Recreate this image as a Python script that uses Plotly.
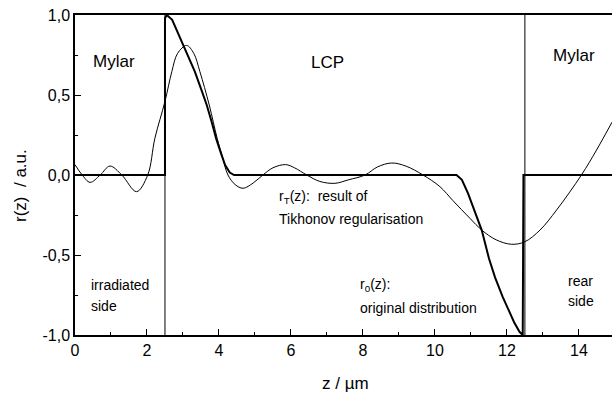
import plotly.graph_objects as go

# ---- data ----
z_r0 = [0.0, 2.5, 2.5, 2.55, 2.7, 2.92, 3.1, 3.33, 3.5, 3.66, 3.8, 3.92, 4.05, 4.17, 4.3, 4.42,
        10.6, 10.75, 10.92, 11.1, 11.3, 11.5, 11.67, 11.88, 12.05, 12.2, 12.35, 12.44, 12.46, 14.92]
r0 = [0.0, 0.0, 0.98, 1.0, 0.97, 0.854, 0.76, 0.646, 0.54, 0.4375, 0.33, 0.229, 0.14, 0.0625, 0.015, 0.0,
      0.0, -0.03, -0.115, -0.23, -0.344, -0.52, -0.64, -0.76, -0.85, -0.92, -0.98, -1.0, 0.0, 0.0]

z_rT = [0.0, 0.2, 0.42, 0.7, 0.97, 1.3, 1.71, 2.02, 2.22, 2.5, 2.69, 2.85, 3.1, 3.3, 3.47, 3.73,
        3.95, 4.1, 4.25, 4.45, 4.67, 4.95, 5.22, 5.5, 5.85, 6.1, 6.44, 6.8, 7.22, 7.6, 8.06, 8.4,
        8.8, 9.2, 9.67, 10.14, 10.5, 10.97, 11.3, 11.7, 12.13, 12.5, 12.92, 13.38, 14.07, 14.49, 14.92]
rT = [0.065, 0.0, -0.046, 0.0, 0.056, 0.0, -0.104, 0.0, 0.23, 0.46, 0.646, 0.76, 0.81, 0.76, 0.646, 0.4375,
      0.229, 0.11, 0.0, -0.06, -0.083, -0.05, 0.0, 0.045, 0.065, 0.045, 0.0, -0.04, -0.052, -0.03, 0.0, 0.05,
      0.075, 0.055, 0.0, -0.073, -0.16, -0.27, -0.344, -0.405, -0.433, -0.417, -0.344, -0.219, 0.0, 0.156, 0.33]

layer_bounds = [2.5, 12.5]

x_tickvals = [0, 2, 4, 6, 8, 10, 12, 14]
x_ticktext = ["0", "2", "4", "6", "8", "10", "12", "14"]
y_tickvals = [-1.0, -0.5, 0.0, 0.5, 1.0]
y_ticktext = ["-1,0", "-0,5", "0,0", "0,5", "1,0"]

FONT = "Arial, Liberation Sans, sans-serif"

fig = go.Figure()
fig.add_trace(go.Scatter(x=z_rT, y=rT, mode="lines", line=dict(color="black", width=1, shape="spline"),
                         showlegend=False, hoverinfo="skip"))
fig.add_trace(go.Scatter(x=z_r0, y=r0, mode="lines", line=dict(color="black", width=2),
                         showlegend=False, hoverinfo="skip"))

for b in layer_bounds:
    fig.add_shape(type="line", x0=b, x1=b, y0=-1, y1=1, xref="x", yref="y",
                  line=dict(color="black", width=1), layer="below")

ann = [
    ("Mylar", 0.44, 0.71, 17),
    ("LCP", 6.5, 0.706, 17),
    ("Mylar", 13.22, 0.75, 17),
    ("irradiated", 0.39, -0.69, 14),
    ("side", 0.39, -0.82, 14),
    ("rear", 13.64, -0.66, 14),
    ("side", 13.64, -0.785, 14),
    ("r<sub>0</sub>(z):", 7.86, -0.69, 14),
    ("original distribution", 7.86, -0.83, 14),
    ("r<sub>T</sub>(z):  result of", 5.61, -0.14, 14),
    ("Tikhonov regularisation", 5.61, -0.275, 14),
]
for t, x, y, s in ann:
    fig.add_annotation(text=t, x=x, y=y, xref="x", yref="y", xanchor="left", yanchor="middle",
                       showarrow=False, font=dict(family=FONT, size=s, color="black"))

fig.add_annotation(text="r(z)  / a.u.", x=20, y=186, xref="paper", yref="paper", showarrow=False,
                   textangle=-90, font=dict(family=FONT, size=17, color="black"))
# convert pixel-based placement to paper coords
fig.layout.annotations[-1].update(x=(20 - 75) / 537, y=(335 - 186) / 320, xanchor="center", yanchor="middle")
fig.add_annotation(text="z / µm", x=(345 - 75) / 537, y=-(383 - 335) / 320, xref="paper", yref="paper",
                   showarrow=False, xanchor="center", yanchor="middle",
                   font=dict(family=FONT, size=17, color="black"))

fig.update_layout(
    width=612, height=395,
    margin=dict(l=75, r=0, t=15, b=60),
    paper_bgcolor="white", plot_bgcolor="white",
    font=dict(family=FONT, size=16, color="black"),
    xaxis=dict(range=[0, 14.92], tickvals=x_tickvals, ticktext=x_ticktext, ticks="inside", ticklen=6,
               tickwidth=1.2, tickcolor="black", showline=True, linecolor="black", linewidth=1.5,
               mirror=True, showgrid=False, zeroline=False,
               minor=dict(dtick=1, tick0=0, ticks="inside", ticklen=3, tickcolor="black", showgrid=False)),
    yaxis=dict(range=[-1.0, 1.0], tickvals=y_tickvals, ticktext=y_ticktext, ticks="inside", ticklen=6,
               tickwidth=1.2, tickcolor="black", showline=True, linecolor="black", linewidth=1.5,
               showgrid=False, zeroline=False,
               minor=dict(dtick=0.25, tick0=0, ticks="inside", ticklen=3, tickcolor="black", showgrid=False)),
)

fig.write_html("out.html")
